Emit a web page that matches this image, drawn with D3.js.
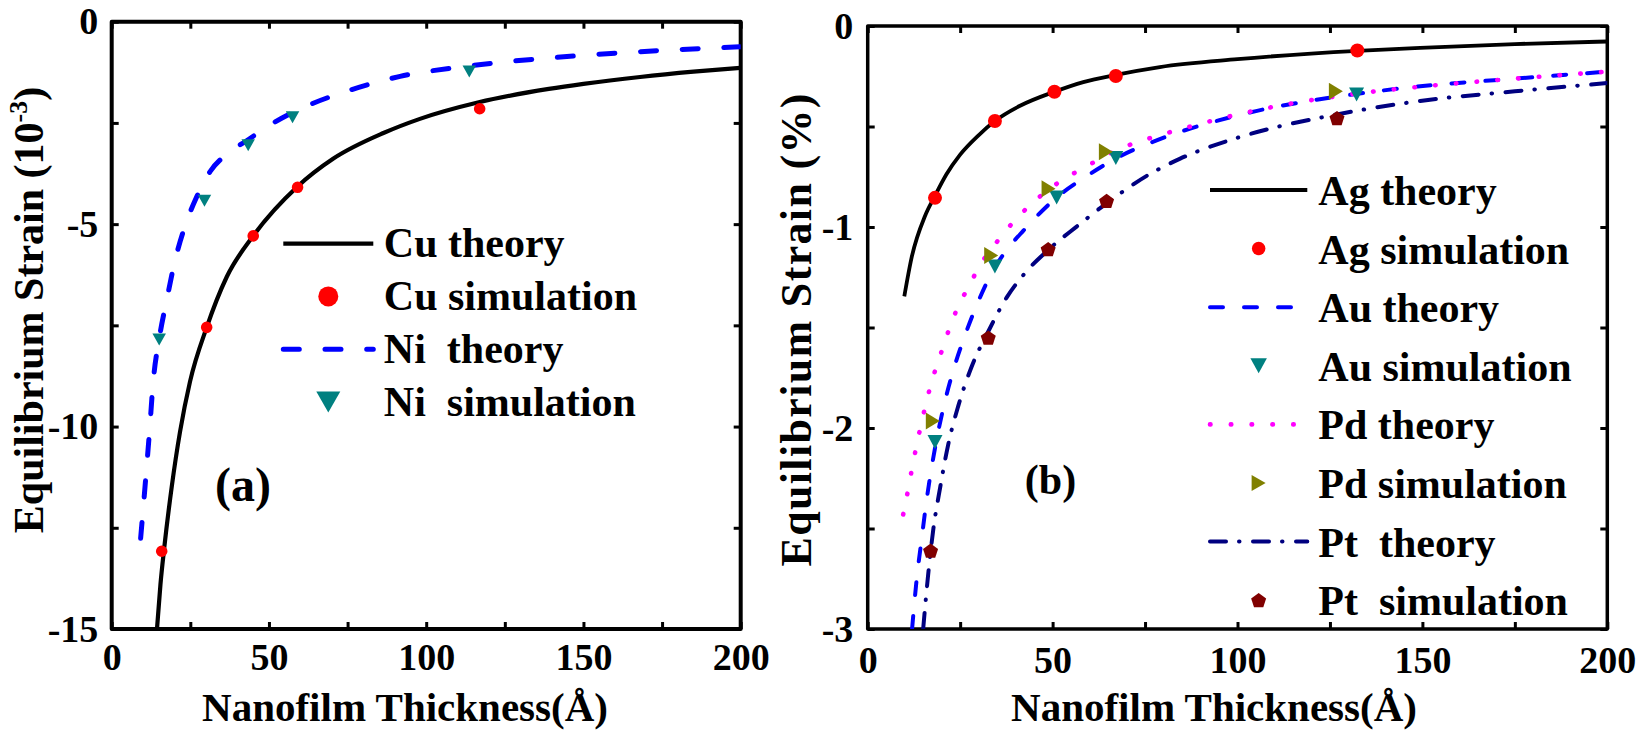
<!DOCTYPE html>
<html>
<head>
<meta charset="utf-8">
<script src="https://cdn.jsdelivr.net/npm/d3@7"></script>
<style>
  html, body { margin: 0; padding: 0; background: #fff; }
  svg { display: block; font-family: "Liberation Serif", "Times New Roman", serif; font-weight: bold; }
  text { white-space: pre; }
</style>
</head>
<body>
<svg id="chart" width="1641" height="734"></svg>
<script>
// ---- Panel (a): Cu / Ni, strain in units of 1e-3 ----
// [thickness (Å), strain]
const cuTheory = [
  [14.4, -15.0], [15.5, -13.9], [16.7, -13.0], [19.1, -11.48], [21.7, -10.14],
  [24.9, -8.89], [30.2, -7.55], [36.6, -6.30], [45.0, -5.29], [59.1, -4.07],
  [70.5, -3.38], [86.4, -2.75], [98.0, -2.40], [116.7, -1.99], [139, -1.66],
  [150, -1.535], [168, -1.365], [185, -1.235], [200, -1.14],
];
const cuSim = [[15.9, -13.08], [30.2, -7.55], [45.0, -5.29], [59.1, -4.09], [117.0, -2.15]];
const niTheory = [
  [9.2, -12.76], [10.6, -11.48], [12.0, -10.14], [13.2, -8.89], [15.1, -7.83],
  [17.5, -6.87], [20.1, -5.91], [23.3, -5.05], [27.0, -4.33], [31.3, -3.70],
  [36.6, -3.27], [42.9, -2.94], [51.4, -2.50], [60.9, -2.12], [75.8, -1.69],
  [91.7, -1.35], [113, -1.10], [150, -0.83], [175, -0.71], [200, -0.62],
];
const niSim = [[15.1, -7.85], [29.5, -4.42], [43.4, -3.05], [57.5, -2.36], [113.7, -1.23]];

// ---- Panel (b): Ag / Au / Pd / Pt, strain in % ----
const agTheory = [
  [9.9, -1.345], [11.9, -1.15], [15.5, -0.945], [18.2, -0.845], [21.3, -0.738],
  [25.0, -0.640], [29.9, -0.545], [34.4, -0.473], [41.2, -0.397], [50.5, -0.327],
  [58.3, -0.279], [67.1, -0.243], [79.0, -0.204], [100, -0.165], [132.4, -0.124],
  [149.4, -0.109], [175, -0.090], [200, -0.077],
];
const agSim = [[18.2, -0.855], [34.4, -0.473], [50.5, -0.327], [67.1, -0.249], [132.4, -0.122]];
const auTheory = [
  [12.0, -3.0], [13.2, -2.76], [14.6, -2.55], [16.0, -2.35], [18.2, -2.10],
  [20.4, -1.905], [23.2, -1.71], [25.9, -1.56], [29.0, -1.41], [34.4, -1.20],
  [37.6, -1.114], [42.1, -1.018], [51.1, -0.853], [59.2, -0.747], [67.3, -0.657],
  [79.0, -0.563], [100, -0.445], [132.2, -0.338], [149.4, -0.300], [175, -0.262], [200, -0.227],
];
const auSim = [[18.2, -2.07], [34.4, -1.196], [51.1, -0.853], [67.1, -0.657], [132.2, -0.341]];
const pdTheory = [
  [9.6, -2.43], [11.0, -2.30], [12.1, -2.19], [14.6, -1.97], [17.3, -1.77],
  [19.6, -1.64], [21.8, -1.52], [24.1, -1.41], [27.2, -1.30], [30.4, -1.19],
  [34.9, -1.075], [39.8, -0.967], [45.2, -0.870], [51.1, -0.785], [59.2, -0.698],
  [68.2, -0.611], [79.0, -0.543], [84.5, -0.514], [100, -0.44], [126.6, -0.35],
  [149.4, -0.302], [175, -0.262], [200, -0.227],
];
const pdSim = [[17.6, -1.965], [33.4, -1.142], [48.9, -0.810], [64.4, -0.625], [126.6, -0.325]];
const ptTheory = [
  [15.0, -3.0], [16.4, -2.72], [17.7, -2.51], [19.6, -2.295], [21.8, -2.08],
  [24.5, -1.89], [28.1, -1.695], [32.6, -1.52], [37.6, -1.35], [42.5, -1.23],
  [48.8, -1.114], [56.5, -0.998], [64.6, -0.882], [75.5, -0.745], [84.5, -0.660],
  [100, -0.556], [126.9, -0.44], [149.4, -0.373], [175, -0.325], [200, -0.284],
];
const ptSim = [[17.0, -2.61], [32.6, -1.55], [48.8, -1.11], [64.6, -0.87], [126.9, -0.458]];

// ticks and labels
const xTicks = d3.range(0, 201, 25);
const yTicksA = d3.range(-15, 0.1, 2.5);
const yTicksB = d3.range(-3, 0.01, 0.5);
const legendA = ['Cu theory', 'Cu simulation', 'Ni  theory', 'Ni  simulation'];
const legendB = ['Ag theory', 'Ag simulation', 'Au theory', 'Au simulation',
                 'Pd theory', 'Pd simulation', 'Pt  theory', 'Pt  simulation'];

const svg = d3.select('#chart');

// Marker shapes sized by bounding box (w x h), centred on the data point.
function markerPath(kind, w, h) {
  const p = d3.path();
  if (kind === 'circle') {
    p.arc(0, 0, w / 2, 0, 2 * Math.PI);
  } else if (kind === 'down') {
    p.moveTo(-w / 2, -h / 2); p.lineTo(w / 2, -h / 2); p.lineTo(0, h / 2); p.closePath();
  } else if (kind === 'right') {
    p.moveTo(-w / 2, -h / 2); p.lineTo(w / 2, 0); p.lineTo(-w / 2, h / 2); p.closePath();
  } else if (kind === 'pent') {
    const R = w / 1.902;
    for (let i = 0; i < 5; i++) {
      const a = -Math.PI / 2 + i * 2 * Math.PI / 5;
      const px = R * Math.cos(a), py = R * Math.sin(a) + R * 0.095;
      i ? p.lineTo(px, py) : p.moveTo(px, py);
    }
    p.closePath();
  }
  return p.toString();
}

function styleAxis(sel, cfg) {
  sel.select('.domain').remove();
  sel.attr('font-family', null).attr('font-size', cfg.tickFont);
  sel.selectAll('.tick line').attr('stroke', '#000').attr('stroke-width', 3);
  sel.selectAll('.tick text').attr('fill', '#000');
}

function drawPanel(cfg) {
  const x = d3.scaleLinear().domain([0, 200]).range([cfg.left, cfg.right]);
  const y = d3.scaleLinear().domain(cfg.yDomain).range([cfg.bottom, cfg.top]);
  const g = svg.append('g').attr('class', 'panel-' + cfg.id);

  svg.append('clipPath').attr('id', 'clip-' + cfg.id)
    .append('rect')
    .attr('x', cfg.left).attr('y', cfg.top)
    .attr('width', cfg.right - cfg.left).attr('height', cfg.bottom - cfg.top);

  // Axes: inward ticks on all four sides, labels only bottom/left
  g.append('g').attr('transform', `translate(0,${cfg.bottom})`)
    .call(d3.axisBottom(x).tickValues(xTicks).tickSize(-cfg.tick).tickPadding(cfg.xPad)
      .tickFormat(d => d % 50 ? '' : String(d)))
    .call(s => styleAxis(s, cfg));
  g.append('g').attr('transform', `translate(0,${cfg.top})`)
    .call(d3.axisTop(x).tickValues(xTicks).tickSize(-cfg.tick).tickFormat(''))
    .call(s => styleAxis(s, cfg));
  g.append('g').attr('transform', `translate(${cfg.left},0)`)
    .call(d3.axisLeft(y).tickValues(cfg.yTicks).tickSize(-cfg.tick).tickPadding(cfg.yPad)
      .tickFormat(cfg.yFormat))
    .call(s => styleAxis(s, cfg));
  g.append('g').attr('transform', `translate(${cfg.right},0)`)
    .call(d3.axisRight(y).tickValues(cfg.yTicks).tickSize(-cfg.tick).tickFormat(''))
    .call(s => styleAxis(s, cfg));

  g.append('rect')
    .attr('x', cfg.left).attr('y', cfg.top)
    .attr('width', cfg.right - cfg.left).attr('height', cfg.bottom - cfg.top)
    .attr('fill', 'none').attr('stroke', '#000').attr('stroke-width', cfg.frame)
    .attr('stroke-linejoin', 'round');

  // Theory curves
  const line = d3.line().x(d => x(d[0])).y(d => y(d[1])).curve(d3.curveMonotoneX);
  const plot = g.append('g').attr('clip-path', `url(#clip-${cfg.id})`);
  cfg.theory.forEach(s => {
    plot.append('path')
      .attr('d', line(s.data))
      .attr('fill', 'none')
      .attr('stroke', s.color)
      .attr('stroke-width', s.width)
      .attr('stroke-linecap', s.dash ? 'round' : 'butt')
      .attr('stroke-dasharray', s.dash);
  });

  // Simulation markers
  cfg.sims.forEach(s => {
    plot.append('g').selectAll('path')
      .data(s.data)
      .enter()
      .append('path')
      .attr('transform', d => `translate(${x(d[0])},${y(d[1])})`)
      .attr('d', markerPath(s.kind, s.w, s.h))
      .attr('fill', s.color);
  });

  // Legend: alternate theory line / simulation marker rows
  const leg = g.append('g');
  cfg.legend.forEach((label, i) => {
    const ry = cfg.leg.y0 + i * cfg.leg.dy;
    if (i % 2 === 0) {
      const s = cfg.theory[i / 2];
      leg.append('line')
        .attr('x1', cfg.leg.x1).attr('x2', cfg.leg.x2).attr('y1', ry).attr('y2', ry)
        .attr('stroke', s.color).attr('stroke-width', s.width)
        .attr('stroke-linecap', s.dash ? 'round' : 'butt')
        .attr('stroke-dasharray', s.dash);
    } else {
      const s = cfg.sims[(i - 1) / 2];
      leg.append('path')
        .attr('transform', `translate(${(cfg.leg.x1 + cfg.leg.x2) / 2},${ry})`)
        .attr('d', markerPath(s.kind, s.lw || s.w, s.lh || s.h))
        .attr('fill', s.color);
    }
    leg.append('text')
      .attr('x', cfg.leg.tx).attr('y', ry + cfg.leg.base)
      .attr('font-size', cfg.leg.font)
      .attr('xml:space', 'preserve')
      .text(label);
  });

  // Panel tag and axis titles
  g.append('text')
    .attr('x', cfg.tag.x).attr('y', cfg.tag.y)
    .attr('text-anchor', 'middle').attr('font-size', cfg.tag.font)
    .text(cfg.tag.text);

  g.append('text')
    .attr('x', cfg.xTitle.x).attr('y', cfg.xTitle.y)
    .attr('text-anchor', 'middle').attr('font-size', 41)
    .text('Nanofilm Thickness(Å)');

  const yt = g.append('text')
    .attr('transform', `translate(${cfg.yTitle.x},${cfg.yTitle.y}) rotate(-90)`)
    .attr('text-anchor', 'middle').attr('font-size', cfg.yTitle.font);
  cfg.yTitle.build(yt);
}

drawPanel({
  id: 'a',
  left: 111.7, right: 740.7, top: 21.7, bottom: 629,
  yDomain: [-15, 0], yTicks: yTicksA,
  yFormat: d => d % 5 ? '' : String(d),
  tick: 7, frame: 4, tickFont: 38, xPad: 14, yPad: 13.4,
  theory: [
    { data: cuTheory, color: '#000', width: 4.2, dash: null },
    { data: niTheory, color: '#0000ff', width: 5, dash: '16 25.7' },
  ],
  sims: [
    { data: cuSim, kind: 'circle', color: '#ff0000', w: 11.6, h: 11.6, lw: 20, lh: 20 },
    { data: niSim, kind: 'down', color: '#008080', w: 13.5, h: 12, lw: 24, lh: 21 },
  ],
  legend: legendA,
  leg: { x1: 283.3, x2: 373.3, tx: 383.8, y0: 243.6, dy: 52.8, base: 13.5, font: 42 },
  tag: { text: '(a)', x: 243, y: 501, font: 48 },
  xTitle: { x: 405, y: 721 },
  yTitle: {
    x: 43, y: 310, font: 42,
    build: t => {
      t.append('tspan').text('Equilibrium Strain (10');
      t.append('tspan').attr('font-size', 26).attr('dy', -16).text('-3');
      t.append('tspan').attr('dy', 16).text(')');
    },
  },
});

drawPanel({
  id: 'b',
  left: 867.7, right: 1607.3, top: 26, bottom: 629,
  yDomain: [-3, 0], yTicks: yTicksB,
  yFormat: d => Number.isInteger(d) ? String(d) : '',
  tick: 7, frame: 3.5, tickFont: 38, xPad: 17, yPad: 14.4,
  theory: [
    { data: agTheory, color: '#000', width: 3.8, dash: null },
    { data: auTheory, color: '#0000ff', width: 4, dash: '13 21' },
    { data: pdTheory, color: '#ff00ff', width: 4.6, dash: '0.5 20.3' },
    { data: ptTheory, color: '#000080', width: 4, dash: '16 13 0.5 13.5' },
  ],
  sims: [
    { data: agSim, kind: 'circle', color: '#ff0000', w: 14, h: 14, lw: 13.5, lh: 13.5 },
    { data: auSim, kind: 'down', color: '#008080', w: 15, h: 14, lw: 16.5, lh: 15 },
    { data: pdSim, kind: 'right', color: '#808000', w: 14, h: 17, lw: 14, lh: 16 },
    { data: ptSim, kind: 'pent', color: '#800000', w: 15, h: 15, lw: 15, lh: 15 },
  ],
  legend: legendB,
  leg: { x1: 1210, x2: 1307.3, tx: 1318.3, y0: 190, dy: 58.6, base: 15, font: 42 },
  tag: { text: '(b)', x: 1050.5, y: 494, font: 42 },
  xTitle: { x: 1214, y: 721 },
  yTitle: {
    x: 811, y: 330, font: 44,
    build: t => {
      t.attr('textLength', 473).attr('lengthAdjust', 'spacing')
        .text('Equilibrium Strain (%)');
    },
  },
});
</script>
</body>
</html>
